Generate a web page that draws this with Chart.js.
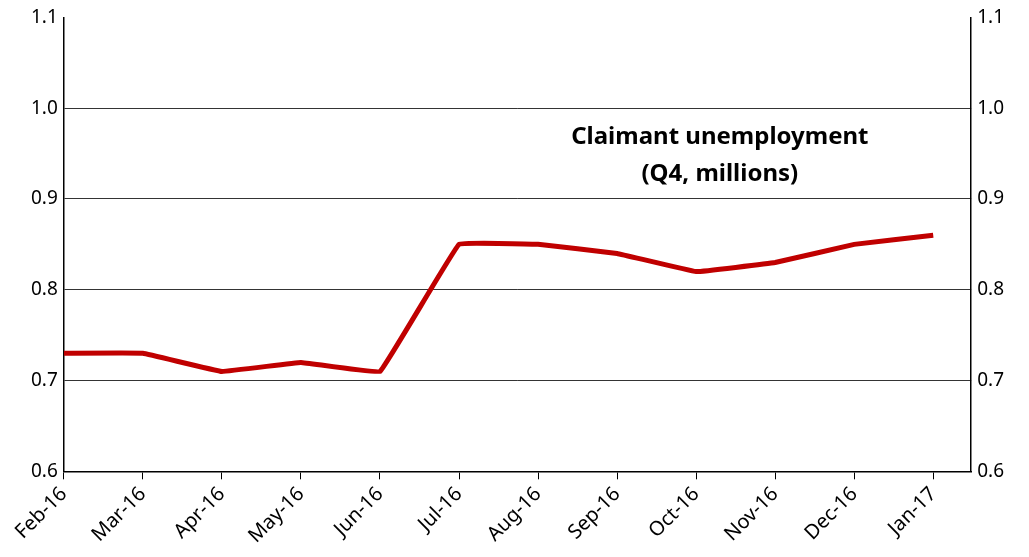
<!DOCTYPE html>
<html><head><meta charset="utf-8">
<script src="https://cdn.jsdelivr.net/npm/chart.js@4"></script>
<style>html,body{margin:0;background:#fff}#wrap{width:1029px;height:557px}</style>
</head><body><div id="wrap"><canvas id="c"></canvas></div>
<script>
const months = ['Feb-16','Mar-16','Apr-16','May-16','Jun-16','Jul-16','Aug-16','Sep-16','Oct-16','Nov-16','Dec-16','Jan-17'];
const claimant = [0.73,0.73,0.71,0.72,0.71,0.85,0.85,0.84,0.82,0.83,0.85,0.86];
const titleLines = ['Claimant unemployment','(Q4, millions)'];

const font = {family:'"Noto Sans", sans-serif', size:19};

const titlePlugin = {
  id:'title',
  afterDraw(chart){
    const c = chart.ctx, x = chart.scales.x, y = chart.scales.y;
    c.save();
    c.font = 'bold 24px "Noto Sans", sans-serif';
    c.fillStyle = '#000'; c.textAlign = 'center'; c.textBaseline = 'middle';
    const cx = x.getPixelForValue(8.3);
    c.fillText(titleLines[0], cx, y.getPixelForValue(0.968));
    c.fillText(titleLines[1], cx, y.getPixelForValue(0.927));
    c.restore();
  }
};

new Chart(document.getElementById('c'), {
  type:'line',
  data:{datasets:[{
    data: claimant.map((v,i)=>({x:i,y:v})),
    borderColor:'#c00000', borderWidth:5, pointRadius:0, tension:0.05
  }]},
  options:{
    responsive:true, maintainAspectRatio:false, animation:false,
    layout:{padding:{top:8,right:19,left:25,bottom:6}},
    plugins:{legend:{display:false},tooltip:{enabled:false}},
    scales:{
      x:{type:'linear', min:0, max:11.48,
        afterBuildTicks(s){ s.ticks = months.map((m,i)=>({value:i})); },
        ticks:{font:{...font,size:20}, color:'#000', maxRotation:45, minRotation:45, autoSkip:false,
          callback:(v)=>months[v]},
        grid:{display:true, drawOnChartArea:false, drawTicks:true, tickLength:8, color:'#000'},
        border:{color:'#000', width:1.5}},
      y:{min:0.6, max:1.1,
        ticks:{font, color:'#000', stepSize:0.1, padding:6, callback:v=>v.toFixed(1)},
        grid:{color:(c)=>(c.tick.value>0.65 && c.tick.value<1.05)?'#000':'rgba(0,0,0,0)', lineWidth:0.8, drawTicks:false},
        border:{color:'#000', width:1.5}},
      y2:{position:'right', min:0.6, max:1.1,
        ticks:{font, color:'#000', stepSize:0.1, padding:6, callback:v=>v.toFixed(1)},
        grid:{display:false, drawTicks:false},
        border:{color:'#000', width:1.5}}
    }
  },
  plugins:[titlePlugin]
});
</script></body></html>
